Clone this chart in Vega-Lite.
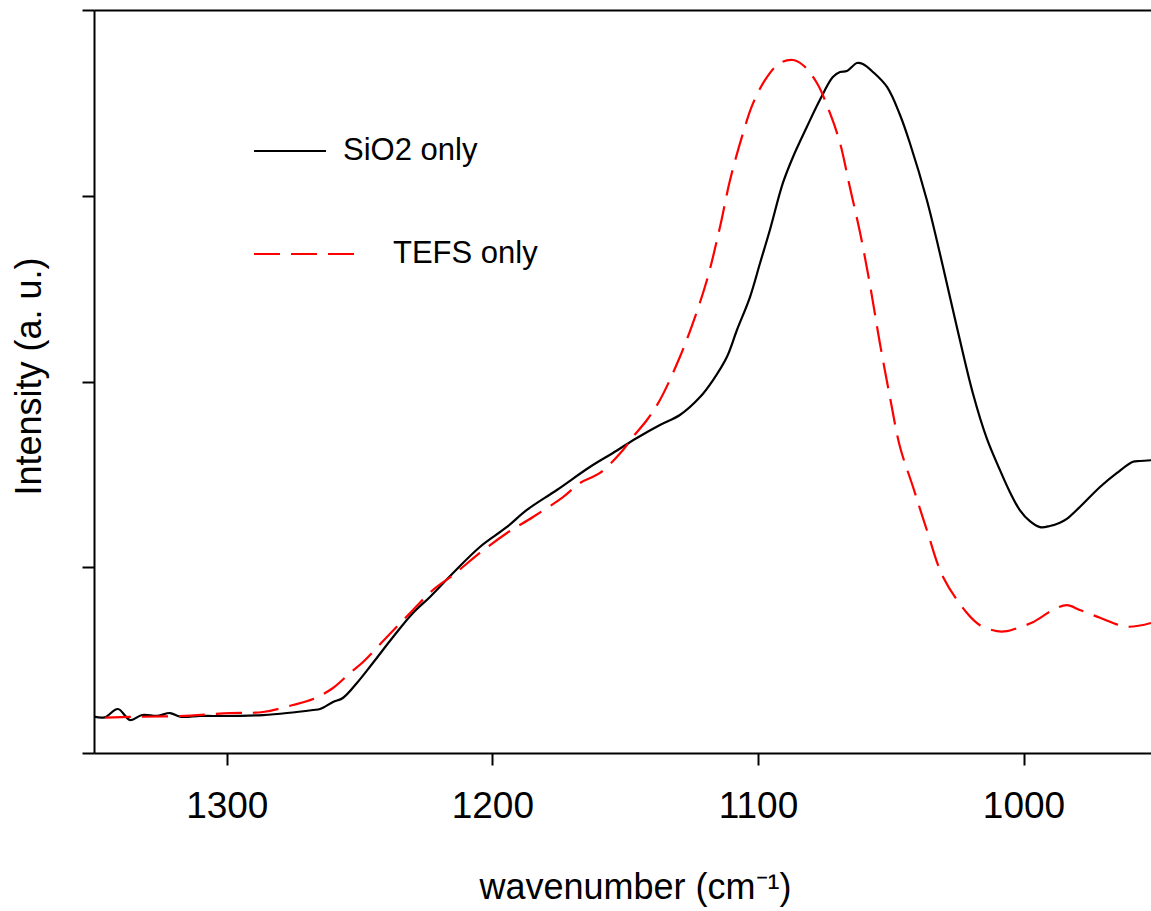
{
  "$schema": "https://vega.github.io/schema/vega-lite/v6.json",
  "autosize": "none",
  "width": 1057,
  "height": 743,
  "padding": {"left": 94, "top": 10, "right": 0, "bottom": 158},
  "background": "white",
  "config": {
    "view": {"stroke": null},
    "font": "Liberation Sans",
    "axis": {"grid": false, "domainColor": "black", "domainWidth": 2, "tickColor": "black", "tickWidth": 2, "labelColor": "black", "titleColor": "black", "labelFont": "Liberation Sans", "titleFont": "Liberation Sans", "titleFontWeight": "normal"},
    "legend": {"labelFont": "Liberation Sans", "labelColor": "black", "labelFontSize": 31, "symbolType": "stroke", "symbolStrokeWidth": 2}
  },
  "datasets": {
    "spectra": [
      {"wn": 1350.0, "intensity": 4.89, "series": "SiO2 only"},
      {"wn": 1346.0, "intensity": 4.8, "series": "SiO2 only"},
      {"wn": 1341.0, "intensity": 5.92, "series": "SiO2 only"},
      {"wn": 1336.4, "intensity": 4.44, "series": "SiO2 only"},
      {"wn": 1331.9, "intensity": 5.11, "series": "SiO2 only"},
      {"wn": 1326.0, "intensity": 5.0, "series": "SiO2 only"},
      {"wn": 1321.4, "intensity": 5.38, "series": "SiO2 only"},
      {"wn": 1317.6, "intensity": 4.89, "series": "SiO2 only"},
      {"wn": 1310.0, "intensity": 5.0, "series": "SiO2 only"},
      {"wn": 1305.2, "intensity": 4.98, "series": "SiO2 only"},
      {"wn": 1295.0, "intensity": 5.0, "series": "SiO2 only"},
      {"wn": 1286.4, "intensity": 5.11, "series": "SiO2 only"},
      {"wn": 1277.3, "intensity": 5.38, "series": "SiO2 only"},
      {"wn": 1267.5, "intensity": 5.79, "series": "SiO2 only"},
      {"wn": 1264.9, "intensity": 5.92, "series": "SiO2 only"},
      {"wn": 1260.0, "intensity": 6.86, "series": "SiO2 only"},
      {"wn": 1256.3, "intensity": 7.4, "series": "SiO2 only"},
      {"wn": 1251.0, "intensity": 9.42, "series": "SiO2 only"},
      {"wn": 1245.0, "intensity": 12.11, "series": "SiO2 only"},
      {"wn": 1237.4, "intensity": 15.61, "series": "SiO2 only"},
      {"wn": 1229.9, "intensity": 18.84, "series": "SiO2 only"},
      {"wn": 1223.5, "intensity": 21.0, "series": "SiO2 only"},
      {"wn": 1214.8, "intensity": 24.23, "series": "SiO2 only"},
      {"wn": 1204.7, "intensity": 27.73, "series": "SiO2 only"},
      {"wn": 1194.5, "intensity": 30.42, "series": "SiO2 only"},
      {"wn": 1187.0, "intensity": 32.71, "series": "SiO2 only"},
      {"wn": 1175.7, "intensity": 35.4, "series": "SiO2 only"},
      {"wn": 1163.3, "intensity": 38.49, "series": "SiO2 only"},
      {"wn": 1154.6, "intensity": 40.38, "series": "SiO2 only"},
      {"wn": 1145.6, "intensity": 42.4, "series": "SiO2 only"},
      {"wn": 1136.9, "intensity": 44.15, "series": "SiO2 only"},
      {"wn": 1129.4, "intensity": 45.49, "series": "SiO2 only"},
      {"wn": 1121.8, "intensity": 47.91, "series": "SiO2 only"},
      {"wn": 1116.9, "intensity": 50.2, "series": "SiO2 only"},
      {"wn": 1111.7, "intensity": 53.3, "series": "SiO2 only"},
      {"wn": 1107.9, "intensity": 56.93, "series": "SiO2 only"},
      {"wn": 1103.0, "intensity": 61.37, "series": "SiO2 only"},
      {"wn": 1099.2, "intensity": 65.95, "series": "SiO2 only"},
      {"wn": 1095.5, "intensity": 70.39, "series": "SiO2 only"},
      {"wn": 1090.6, "intensity": 76.72, "series": "SiO2 only"},
      {"wn": 1086.8, "intensity": 80.22, "series": "SiO2 only"},
      {"wn": 1081.6, "intensity": 84.25, "series": "SiO2 only"},
      {"wn": 1076.7, "intensity": 87.89, "series": "SiO2 only"},
      {"wn": 1071.8, "intensity": 90.98, "series": "SiO2 only"},
      {"wn": 1069.1, "intensity": 91.66, "series": "SiO2 only"},
      {"wn": 1066.5, "intensity": 91.79, "series": "SiO2 only"},
      {"wn": 1062.7, "intensity": 92.87, "series": "SiO2 only"},
      {"wn": 1060.5, "intensity": 92.73, "series": "SiO2 only"},
      {"wn": 1056.7, "intensity": 91.66, "series": "SiO2 only"},
      {"wn": 1051.4, "intensity": 89.64, "series": "SiO2 only"},
      {"wn": 1046.5, "intensity": 85.87, "series": "SiO2 only"},
      {"wn": 1042.8, "intensity": 82.1, "series": "SiO2 only"},
      {"wn": 1036.4, "intensity": 74.43, "series": "SiO2 only"},
      {"wn": 1030.3, "intensity": 65.41, "series": "SiO2 only"},
      {"wn": 1025.1, "intensity": 57.34, "series": "SiO2 only"},
      {"wn": 1019.1, "intensity": 48.45, "series": "SiO2 only"},
      {"wn": 1013.8, "intensity": 42.3, "series": "SiO2 only"},
      {"wn": 1008.9, "intensity": 38.1, "series": "SiO2 only"},
      {"wn": 1005.1, "intensity": 35.1, "series": "SiO2 only"},
      {"wn": 1001.4, "intensity": 32.7, "series": "SiO2 only"},
      {"wn": 997.6, "intensity": 31.2, "series": "SiO2 only"},
      {"wn": 993.8, "intensity": 30.4, "series": "SiO2 only"},
      {"wn": 990.1, "intensity": 30.55, "series": "SiO2 only"},
      {"wn": 986.3, "intensity": 31.0, "series": "SiO2 only"},
      {"wn": 983.7, "intensity": 31.5, "series": "SiO2 only"},
      {"wn": 978.8, "intensity": 33.1, "series": "SiO2 only"},
      {"wn": 971.2, "intensity": 35.8, "series": "SiO2 only"},
      {"wn": 964.8, "intensity": 37.7, "series": "SiO2 only"},
      {"wn": 958.8, "intensity": 39.2, "series": "SiO2 only"},
      {"wn": 956.2, "intensity": 39.3, "series": "SiO2 only"},
      {"wn": 952.0, "intensity": 39.4, "series": "SiO2 only"},
      {"wn": 1345.9, "intensity": 4.75, "series": "TEFS only"},
      {"wn": 1336.4, "intensity": 4.85, "series": "TEFS only"},
      {"wn": 1317.6, "intensity": 4.98, "series": "TEFS only"},
      {"wn": 1298.8, "intensity": 5.38, "series": "TEFS only"},
      {"wn": 1286.4, "intensity": 5.52, "series": "TEFS only"},
      {"wn": 1275.1, "intensity": 6.46, "series": "TEFS only"},
      {"wn": 1267.5, "intensity": 7.27, "series": "TEFS only"},
      {"wn": 1260.0, "intensity": 8.75, "series": "TEFS only"},
      {"wn": 1253.6, "intensity": 10.77, "series": "TEFS only"},
      {"wn": 1248.7, "intensity": 12.25, "series": "TEFS only"},
      {"wn": 1239.7, "intensity": 15.61, "series": "TEFS only"},
      {"wn": 1229.9, "intensity": 19.25, "series": "TEFS only"},
      {"wn": 1222.4, "intensity": 21.94, "series": "TEFS only"},
      {"wn": 1214.8, "intensity": 23.96, "series": "TEFS only"},
      {"wn": 1204.7, "intensity": 26.92, "series": "TEFS only"},
      {"wn": 1194.5, "intensity": 29.61, "series": "TEFS only"},
      {"wn": 1184.7, "intensity": 31.76, "series": "TEFS only"},
      {"wn": 1173.4, "intensity": 34.45, "series": "TEFS only"},
      {"wn": 1167.0, "intensity": 36.34, "series": "TEFS only"},
      {"wn": 1159.5, "intensity": 37.69, "series": "TEFS only"},
      {"wn": 1150.8, "intensity": 40.78, "series": "TEFS only"},
      {"wn": 1147.1, "intensity": 42.53, "series": "TEFS only"},
      {"wn": 1141.8, "intensity": 44.82, "series": "TEFS only"},
      {"wn": 1136.9, "intensity": 47.51, "series": "TEFS only"},
      {"wn": 1129.4, "intensity": 53.3, "series": "TEFS only"},
      {"wn": 1124.5, "intensity": 57.87, "series": "TEFS only"},
      {"wn": 1119.2, "intensity": 63.66, "series": "TEFS only"},
      {"wn": 1114.3, "intensity": 70.79, "series": "TEFS only"},
      {"wn": 1110.5, "intensity": 77.12, "series": "TEFS only"},
      {"wn": 1105.6, "intensity": 83.45, "series": "TEFS only"},
      {"wn": 1101.9, "intensity": 87.4, "series": "TEFS only"},
      {"wn": 1096.6, "intensity": 90.98, "series": "TEFS only"},
      {"wn": 1091.7, "intensity": 92.87, "series": "TEFS only"},
      {"wn": 1086.8, "intensity": 93.27, "series": "TEFS only"},
      {"wn": 1083.1, "intensity": 92.6, "series": "TEFS only"},
      {"wn": 1077.8, "intensity": 90.17, "series": "TEFS only"},
      {"wn": 1072.9, "intensity": 86.14, "series": "TEFS only"},
      {"wn": 1069.1, "intensity": 82.1, "series": "TEFS only"},
      {"wn": 1065.4, "intensity": 76.18, "series": "TEFS only"},
      {"wn": 1061.6, "intensity": 70.12, "series": "TEFS only"},
      {"wn": 1057.8, "intensity": 62.99, "series": "TEFS only"},
      {"wn": 1054.1, "intensity": 55.18, "series": "TEFS only"},
      {"wn": 1050.3, "intensity": 47.91, "series": "TEFS only"},
      {"wn": 1046.5, "intensity": 41.18, "series": "TEFS only"},
      {"wn": 1041.6, "intensity": 35.8, "series": "TEFS only"},
      {"wn": 1036.4, "intensity": 30.01, "series": "TEFS only"},
      {"wn": 1030.3, "intensity": 23.69, "series": "TEFS only"},
      {"wn": 1021.3, "intensity": 18.84, "series": "TEFS only"},
      {"wn": 1016.4, "intensity": 17.2, "series": "TEFS only"},
      {"wn": 1010.0, "intensity": 16.4, "series": "TEFS only"},
      {"wn": 1006.3, "intensity": 16.4, "series": "TEFS only"},
      {"wn": 1002.5, "intensity": 16.8, "series": "TEFS only"},
      {"wn": 996.5, "intensity": 17.6, "series": "TEFS only"},
      {"wn": 988.9, "intensity": 19.25, "series": "TEFS only"},
      {"wn": 983.7, "intensity": 19.9, "series": "TEFS only"},
      {"wn": 978.8, "intensity": 19.25, "series": "TEFS only"},
      {"wn": 971.2, "intensity": 18.2, "series": "TEFS only"},
      {"wn": 961.1, "intensity": 17.0, "series": "TEFS only"},
      {"wn": 952.0, "intensity": 17.5, "series": "TEFS only"}
    ]
  },
  "data": {"name": "spectra"},
  "encoding": {
    "x": {"field": "wn", "type": "quantitative", "scale": {"domain": [1350, 952], "nice": false, "zero": false}},
    "y": {"field": "intensity", "type": "quantitative", "scale": {"domain": [0, 100], "nice": false, "zero": false},
      "axis": {"values": [0, 25, 50, 75, 100], "labels": false, "tickSize": 12, "title": "Intensity (a. u.)", "titleFontSize": 36, "titleAngle": 270, "titleAlign": "center", "titleBaseline": "alphabetic", "titleX": -54, "titleY": 366}}
  },
  "layer": [
    {
      "transform": [{"filter": "datum.series === 'SiO2 only'"}],
      "mark": {"type": "line", "strokeWidth": 2.2, "clip": true, "interpolate": "catmull-rom"},
      "encoding": {
        "x": {"field": "wn", "type": "quantitative", "axis": {"orient": "bottom", "values": [1300, 1200, 1100, 1000], "format": "d", "tickSize": 12, "labelFontSize": 37, "labelBaseline": "alphabetic", "labelPadding": 52, "labelFlush": false, "title": "wavenumber (cm⁻¹)", "titleFontSize": 36, "titleBaseline": "alphabetic", "titleAlign": "center", "titleX": 541, "titleY": 145}},
        "color": {"field": "series", "type": "nominal", "scale": {"domain": ["SiO2 only"], "range": ["black"]},
          "legend": {"title": null, "orient": "none", "legendX": 159, "legendY": 104, "symbolSize": 5184, "labelOffset": 16, "symbolDash": [1, 0]}}
      }
    },
    {
      "transform": [{"filter": "datum.series === 'TEFS only'"}],
      "mark": {"type": "line", "strokeWidth": 2.2, "clip": true, "interpolate": "catmull-rom", "strokeDash": [26, 11]},
      "encoding": {
        "x": {"field": "wn", "type": "quantitative", "axis": {"orient": "top", "ticks": false, "labels": false, "title": null}},
        "color": {"field": "series", "type": "nominal", "scale": {"domain": ["TEFS only"], "range": ["red"]},
          "legend": {"title": null, "orient": "none", "legendX": 159, "legendY": 192, "symbolSize": 10404, "labelOffset": 36, "symbolDash": [26, 11]}}
      }
    }
  ],
  "resolve": {"scale": {"color": "independent"}, "axis": {"x": "independent"}, "legend": {"color": "independent"}}
}
